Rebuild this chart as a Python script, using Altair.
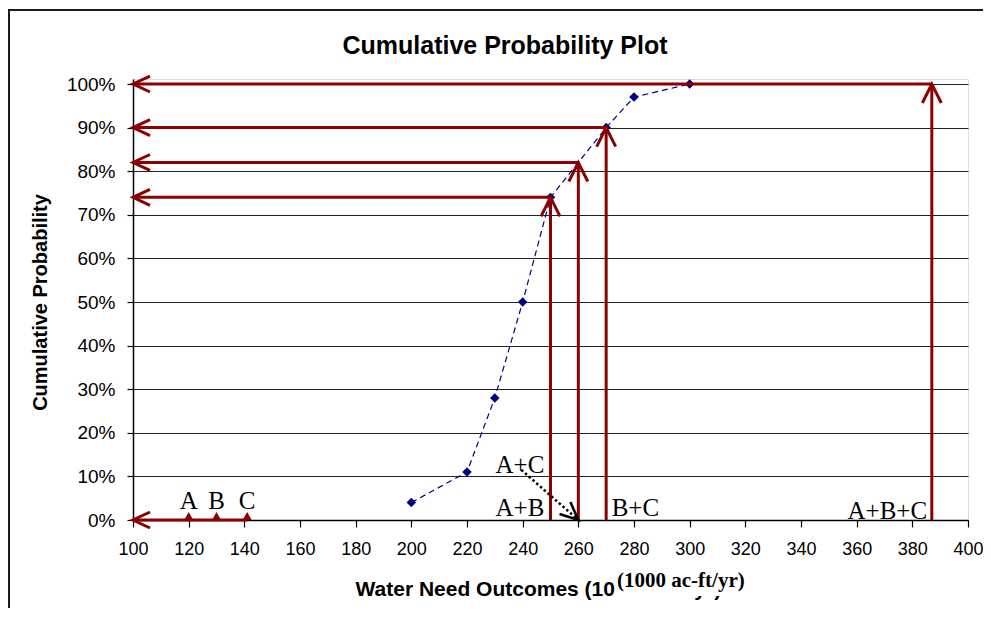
import altair as alt
import pandas as pd

# ---------------- data ----------------
outcomes = [200, 220, 230, 240, 250, 270, 280, 300]
cum_prob = [0.04, 0.11, 0.28, 0.50, 0.74, 0.90, 0.97, 1.00]

combo_x = [250, 260, 270, 387]
combo_p = [0.74, 0.82, 0.90, 1.00]

single_x = [120, 130, 141]
single_labels = ["A", "B", "C"]
single_label_y = [0.025, 0.025, 0.025]

combo_labels = ["A+C", "A+B", "B+C", "A+B+C"]
combo_label_x = [239, 239, 280.5, 371]
combo_label_y = [0.108, 0.009, 0.009, 0.002]

dotted_x = [239.5, 260]
dotted_y = [0.115, 0.0]

x_ticks = [100, 120, 140, 160, 180, 200, 220, 240, 260, 280, 300, 320, 340, 360, 380, 400]
y_ticks = [0.0, 0.1, 0.2, 0.3, 0.4, 0.5, 0.6, 0.7, 0.8, 0.9, 1.0]

chart_title = "Cumulative Probability Plot"

X_MIN, X_MAX = 100, 400
Y_MAX = 1.0115

RED = "#8B0000"
NAVY = "#000080"
SANS = "Liberation Sans"
SERIF = "Liberation Serif"

# ---------------- tables ----------------
curve = pd.DataFrame({"x": outcomes, "y": cum_prob})
segments = pd.DataFrame({
    "x": combo_x + [X_MIN] * len(combo_x) + [X_MIN],
    "x2": combo_x + combo_x + [max(single_x)],
    "y": [0.0] * len(combo_x) + combo_p + [0.0],
    "y2": combo_p + combo_p + [0.0],
})
up_heads = pd.DataFrame({"x": combo_x, "y": combo_p})
left_heads = pd.DataFrame({"x": [X_MIN] * (len(combo_p) + 1), "y": combo_p + [0.0]})
singles = pd.DataFrame({"x": single_x, "y": [0.0] * len(single_x)})
single_text = pd.DataFrame({"x": single_x, "y": single_label_y, "label": single_labels})
combo_text = pd.DataFrame({"x": combo_label_x, "y": combo_label_y, "label": combo_labels})
dotted = pd.DataFrame({"x": dotted_x, "y": dotted_y})
dotted_head = pd.DataFrame({"x": [dotted_x[-1]], "y": [dotted_y[-1]]})
dummy = pd.DataFrame({"k": [0]})

# ---------------- scales / axes ----------------
xscale = alt.Scale(domain=[X_MIN, X_MAX], nice=False, zero=False)
yscale = alt.Scale(domain=[0, Y_MAX], nice=False, zero=True)

xaxis = alt.Axis(
    values=x_ticks, format="d", grid=False,
    labelFont=SANS, labelFontSize=18, labelColor="black", labelPadding=13,
    labelOverlap=False, labelFlush=False,
    tickSize=7, tickColor="black", tickWidth=1.2,
    domainColor="black", domainWidth=1.5,
    title="Water Need Outcomes (1000 ac-ft/yr)",
    titleFont=SANS, titleFontSize=21, titleFontWeight="bold", titleColor="black",
    titleAlign="left", titleAnchor="start", titleX=222, titleY=75,
    titleBaseline="alphabetic", zindex=0,
)
yaxis = alt.Axis(
    values=y_ticks, format=".0%", grid=True, gridColor="#222222", gridWidth=1,
    labelFont=SANS, labelFontSize=19, labelColor="black", labelPadding=12,
    labelOverlap=False, labelFlush=False,
    tickSize=6, tickColor="black", tickWidth=1.2,
    domainColor="black", domainWidth=1.5,
    title="Cumulative Probability",
    titleFont=SANS, titleFontSize=20, titleFontWeight="bold", titleColor="black",
    titleAngle=270, titleAlign="center", titleBaseline="middle",
    titleX=-93, titleY=223, zindex=0,
)

X = alt.X("x:Q", scale=xscale, axis=xaxis)
Y = alt.Y("y:Q", scale=yscale, axis=yaxis)

# ---------------- layers ----------------
frame = alt.Chart(dummy).mark_rect(fillOpacity=0, stroke="#1a1a1a", strokeWidth=2).encode(
    x=alt.value(-124), x2=alt.value(900), y=alt.value(-69), y2=alt.value(640)
)
title_mark = alt.Chart(dummy).mark_text(
    text=chart_title, font=SANS, fontSize=25, fontWeight="bold", color="black",
    align="center", baseline="alphabetic"
).encode(x=alt.value(372), y=alt.value(-25))

line = alt.Chart(curve).mark_line(color=NAVY, strokeWidth=1.2, strokeDash=[6, 4]).encode(x=X, y=Y)
diamonds = alt.Chart(curve).mark_point(shape="diamond", filled=True, size=90, color=NAVY, opacity=1).encode(x=X, y=Y)

rules = alt.Chart(segments).mark_rule(color=RED, strokeWidth=3).encode(
    x=X, y=Y, x2="x2:Q", y2="y2:Q"
)
ups = alt.Chart(up_heads).mark_point(
    shape="M -0.5 1 L 0 0 L 0.5 1", filled=False, size=1444, color=RED,
    strokeWidth=3, opacity=1
).encode(x=X, y=Y)
lefts = alt.Chart(left_heads).mark_point(
    shape="M 1 -0.47 L 0 0 L 1 0.47", filled=False, size=1156, color=RED,
    strokeWidth=3, opacity=1
).encode(x=X, y=Y)
tris = alt.Chart(singles).mark_point(
    shape="M -1 0 L 0 -1.8 L 1 0 Z", filled=True, size=81, color=RED, opacity=1
).encode(x=X, y=Y)

stext = alt.Chart(single_text).mark_text(
    font=SERIF, fontSize=25, color="black", align="center", baseline="alphabetic"
).encode(x=X, y=Y, text="label:N")
ctext = alt.Chart(combo_text).mark_text(
    font=SERIF, fontSize=25, color="black", align="center", baseline="alphabetic"
).encode(x=X, y=Y, text="label:N")

dots = alt.Chart(dotted).mark_line(color="black", strokeWidth=2.5, strokeDash=[2.5, 2.5]).encode(x=X, y=Y)
dhead = alt.Chart(dotted_head).mark_point(
    shape="M -1 -0.45 L 0 0 L -1 0.45", filled=False, size=1300, color="black",
    strokeWidth=2.5, opacity=1, angle=42
).encode(x=X, y=Y)

cover = alt.Chart(dummy).mark_rect(color="white", opacity=1).encode(
    x=alt.value(482), x2=alt.value(630), y=alt.value(487), y2=alt.value(517)
)
unit_text = alt.Chart(dummy).mark_text(
    text="(1000 ac-ft/yr)", font=SERIF, fontWeight="bold", fontSize=21,
    color="black", align="left", baseline="alphabetic"
).encode(x=alt.value(484), y=alt.value(508))

chart = alt.layer(
    frame, title_mark, line, diamonds, rules, ups, lefts, tris, stext, ctext,
    dots, dhead, cover, unit_text
).properties(
    width=835, height=441,
    padding={"left": 125, "top": 71, "right": 15, "bottom": 88},
    autosize=alt.AutoSizeParams(type="none"),
).configure_view(
    stroke="#808080", strokeWidth=2
).configure(background="white")

chart.save("out.html", embed_options={"renderer": "svg", "actions": False})
